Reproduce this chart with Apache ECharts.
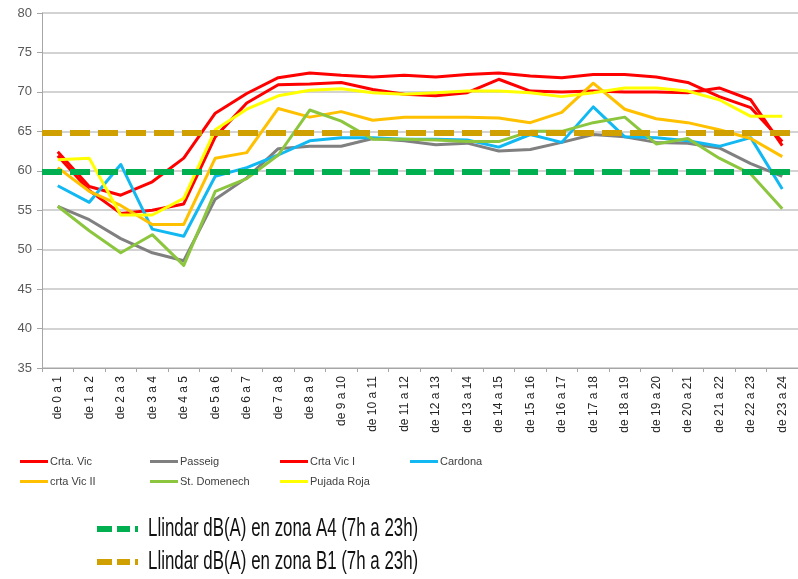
<!DOCTYPE html>
<html>
<head>
<meta charset="utf-8">
<script src="https://cdn.jsdelivr.net/npm/echarts@6/dist/echarts.min.js"></script>
<style>
  html, body { margin: 0; padding: 0; background: #ffffff; }
  #chart { width: 798px; height: 579px; }
</style>
</head>
<body>
<div id="chart"></div>
<script>
// ---- Data ----
const hours = ["de 0 a 1","de 1 a 2","de 2 a 3","de 3 a 4","de 4 a 5","de 5 a 6","de 6 a 7","de 7 a 8",
  "de 8 a 9","de 9 a 10","de 10 a 11","de 11 a 12","de 12 a 13","de 13 a 14","de 14 a 15","de 15 a 16",
  "de 16 a 17","de 17 a 18","de 18 a 19","de 19 a 20","de 20 a 21","de 21 a 22","de 22 a 23","de 23 a 24"];

const crtaVic    = [62.4, 58.0, 56.9, 58.6, 61.6, 67.3, 69.8, 71.8, 72.4, 72.1, 71.9, 72.1, 71.9, 72.2, 72.4, 72.0, 71.8, 72.2, 72.2, 71.9, 71.2, 69.4, 68.0, 63.7];
const passeig    = [55.5, 53.8, 51.4, 49.6, 48.6, 56.4, 59.1, 62.8, 63.1, 63.1, 64.1, 63.8, 63.3, 63.5, 62.5, 62.7, 63.6, 64.6, 64.3, 63.6, 63.5, 62.9, 60.9, 59.3];
const crtaVicI   = [61.9, 57.5, 54.6, 55.0, 55.8, 64.3, 68.6, 70.9, 71.0, 71.2, 70.3, 69.7, 69.5, 69.9, 71.6, 70.1, 70.0, 70.1, 70.0, 70.0, 69.9, 70.5, 69.0, 63.2];
const cardona    = [58.1, 56.0, 60.8, 52.6, 51.7, 59.3, 60.4, 62.0, 63.8, 64.2, 64.2, 64.0, 64.0, 63.9, 63.0, 64.6, 63.6, 68.1, 64.3, 64.2, 63.8, 63.1, 64.2, 57.7];
const crtaVicII  = [60.4, 57.4, 55.6, 53.2, 53.2, 61.6, 62.3, 67.9, 66.8, 67.5, 66.4, 66.8, 66.8, 66.8, 66.7, 66.1, 67.4, 71.1, 67.8, 66.6, 66.1, 65.2, 64.1, 61.8];
const stDomenech = [55.5, 52.4, 49.6, 51.9, 48.0, 57.4, 59.0, 62.0, 67.7, 66.3, 64.0, 64.0, 63.9, 63.7, 63.7, 65.0, 65.0, 66.1, 66.8, 63.4, 64.1, 61.6, 59.6, 55.2];
const pujadaRoja = [61.4, 61.6, 54.4, 54.4, 56.5, 65.2, 67.8, 69.5, 70.2, 70.4, 69.9, 69.7, 69.9, 70.1, 70.1, 69.9, 69.4, 69.9, 70.5, 70.5, 70.1, 69.0, 66.9, 66.9];

const thresholdA4 = 59.9;
const thresholdB1 = 64.8;

const yTicks = { min: 35, max: 80, step: 5 };

const seriesNames = ["Crta. Vic", "Passeig", "Crta Vic I", "Cardona", "crta Vic II", "St. Domenech", "Pujada Roja"];
const seriesValues = [crtaVic, passeig, crtaVicI, cardona, crtaVicII, stDomenech, pujadaRoja];
const seriesColors = ["#FF0000", "#808080", "#FF0000", "#12B8F2", "#FFC000", "#8CC63F", "#FFFF00"];
const thresholdNames = ["Llindar dB(A) en zona A4 (7h a 23h)", "Llindar dB(A) en zona B1 (7h a 23h)"];
const thresholdValues = [thresholdA4, thresholdB1];
const thresholdColors = ["#00B050", "#D0A000"];

// ---- Chart ----
const chart = echarts.init(document.getElementById('chart'), null, { renderer: 'canvas' });

const series = [];
thresholdNames.forEach((name, i) => {
  series.push({
    name: name,
    type: 'line',
    data: [],
    z: 1,
    symbol: 'none',
    color: thresholdColors[i],
    lineStyle: { color: thresholdColors[i], width: 6, type: [20, 8] },
    markLine: {
      silent: true,
      symbol: 'none',
      label: { show: false },
      lineStyle: { color: thresholdColors[i], width: 6, type: [20, 8] },
      emphasis: { disabled: true },
      data: [{ yAxis: thresholdValues[i] }]
    }
  });
});
seriesNames.forEach((name, i) => {
  series.push({
    name: name,
    type: 'line',
    data: seriesValues[i],
    z: 3,
    symbol: 'none',
    color: seriesColors[i],
    lineStyle: { color: seriesColors[i], width: 3, join: 'round' },
    emphasis: { disabled: true }
  });
});

// legend laid out as a 4-column grid, one legend block per entry
const legends = seriesNames.map((name, i) => ({
  data: [name],
  left: 15 + (i % 4) * 130,
  top: 451 + Math.floor(i / 4) * 20,
  icon: 'rect',
  itemWidth: 28, itemHeight: 3,
  textStyle: { fontFamily: 'Liberation Sans, Arial, sans-serif', fontSize: 11, color: '#404040', padding: [0, 0, 0, -3] },
  selectedMode: false
}));

// key for the threshold lines (narrow text, dashed swatches)
const keyFont = 'Liberation Sans, Arial, sans-serif';
const graphics = [];
thresholdNames.forEach((name, i) => {
  const cy = 529 + i * 33;
  [[97, 15], [117, 13], [135, 3]].forEach(([x, w]) => {
    graphics.push({ type: 'rect', silent: true, shape: { x: x, y: cy - 3, width: w, height: 6 }, style: { fill: thresholdColors[i] } });
  });
  graphics.push({
    type: 'text', silent: true, x: 148, y: cy, scaleX: 0.675,
    style: { text: name, fontFamily: keyFont, fontSize: 25, fill: '#111111', verticalAlign: 'middle', align: 'left' }
  });
});

chart.setOption({
  animation: false,
  backgroundColor: '#ffffff',
  textStyle: { fontFamily: 'Liberation Sans, Arial, sans-serif' },
  grid: { left: 42, top: 13, width: 763, height: 355 },
  xAxis: {
    type: 'category',
    data: hours,
    boundaryGap: true,
    axisLine: { show: true, lineStyle: { color: '#a6a6a6', width: 1 } },
    axisTick: { show: true, length: 4, interval: 0, lineStyle: { color: '#a6a6a6' } },
    axisLabel: { interval: 0, rotate: 90, fontSize: 12, color: '#262626', margin: 8 },
    splitLine: { show: false }
  },
  yAxis: {
    type: 'value',
    min: yTicks.min,
    max: yTicks.max,
    interval: yTicks.step,
    axisLine: { show: true, lineStyle: { color: '#a6a6a6', width: 1 } },
    axisTick: { show: true, length: 5, lineStyle: { color: '#a6a6a6' } },
    axisLabel: { fontSize: 13, color: '#595959', margin: 10 },
    splitLine: { show: true, lineStyle: { color: '#c4c4c4', width: 1.5 } }
  },
  legend: legends,
  graphic: graphics,
  series: series
});
</script>
</body>
</html>
